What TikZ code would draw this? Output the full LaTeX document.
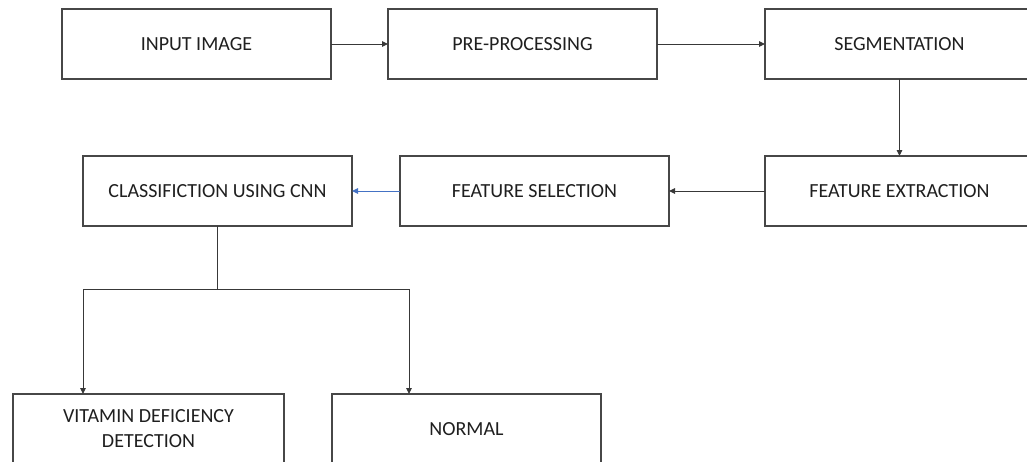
\documentclass[tikz,border=0pt]{standalone}
\usepackage{fontspec}
\setmainfont{Carlito}
\usepackage{tikz}
\usetikzlibrary{arrows.meta,positioning}

\definecolor{linkblue}{HTML}{4472C4}

\begin{document}
\begin{tikzpicture}[node distance=57pt and 57pt]
\tikzset{
  stepbox/.style={rectangle, draw=black!72, line width=1.1pt, fill=white,
    minimum width=269pt, minimum height=70pt, align=center, inner sep=3pt,
    outer sep=0pt, text=black!88, font=\fontsize{20}{25}\selectfont},
  flow/.style={-{Triangle[length=6pt,width=5.5pt]}, line width=1pt, draw=black!78},
  bluelink/.style={-{Triangle[length=6pt,width=5.5pt]}, line width=1pt, draw=linkblue},
  branch/.style={line width=1pt, draw=black!78}
}
\path[use as bounding box, clip] (0,0) rectangle (1027pt,-461pt);

\node[stepbox] (input) at (196.5pt,-44pt) {INPUT IMAGE};
\node[stepbox, right=57pt of input] (preproc) {PRE-PROCESSING};
\node[stepbox, right=108pt of preproc] (segment) {SEGMENTATION};
\node[stepbox, below=77pt of segment] (extract) {FEATURE EXTRACTION};
\node[stepbox, left=96pt of extract] (select) {FEATURE SELECTION};
\node[stepbox, left=48pt of select] (cnn) {CLASSIFICTION USING CNN};
\node[stepbox, below=168pt of cnn, xshift=-69pt, minimum width=271pt] (vitamin) {VITAMIN DEFICIENCY\\DETECTION};
\node[stepbox, right=48pt of vitamin] (normal) {NORMAL};
\coordinate[below=63pt of cnn] (split);

\draw[flow] (input) -- (preproc);
\draw[flow] (preproc) -- (segment);
\draw[flow] (segment) -- (extract);
\draw[flow] (extract) -- (select);
\draw[bluelink] (select) -- (cnn);
\draw[branch] (cnn) -- (split);
\draw[flow] (split) -| (vitamin.north -| cnn.west);
\draw[flow] (split) -| ([xshift=77pt]normal.north west);
\end{tikzpicture}
\end{document}
